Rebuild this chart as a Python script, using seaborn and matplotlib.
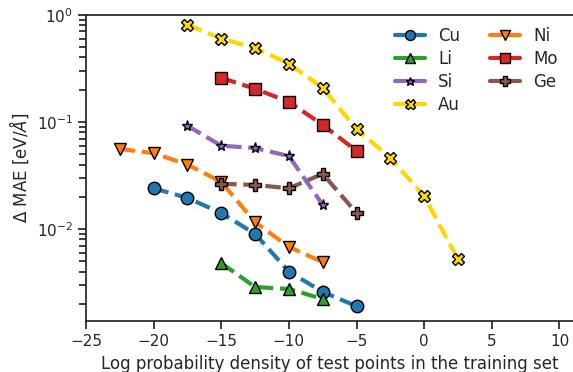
import matplotlib
matplotlib.use("Agg")
import matplotlib.pyplot as plt
import matplotlib.ticker as mticker
from matplotlib.lines import Line2D
import seaborn as sns
import pandas as pd

sns.set_theme(style="ticks", context="notebook")

elements = ["Cu", "Li", "Si", "Au", "Ni", "Mo", "Ge"]
markers = ["o", "^", "*", "X", "v", "s", "P"]
colors = ["#1f77b4", "#2ca02c", "#9467bd", "#FFD700", "#ff7f0e", "#d62728", "#8c564b"]

cu_x = [-20, -17.5, -15, -12.5, -10, -7.5, -5]
cu_y = [0.024, 0.0195, 0.0141, 0.0090, 0.0040, 0.00258, 0.0019]
li_x = [-15, -12.5, -10, -7.5]
li_y = [0.0048, 0.00287, 0.00275, 0.00222]
si_x = [-17.5, -15, -12.5, -10, -7.5]
si_y = [0.092, 0.060, 0.057, 0.048, 0.0168]
au_x = [-17.5, -15, -12.5, -10, -7.5, -5, -2.5, 0, 2.5]
au_y = [0.81, 0.60, 0.49, 0.35, 0.208, 0.086, 0.046, 0.0203, 0.0052]
ni_x = [-22.5, -20, -17.5, -15, -12.5, -10, -7.5]
ni_y = [0.056, 0.051, 0.040, 0.0275, 0.0116, 0.0068, 0.0049]
mo_x = [-15, -12.5, -10, -7.5, -5]
mo_y = [0.258, 0.204, 0.154, 0.094, 0.0536]
ge_x = [-15, -12.5, -10, -7.5, -5]
ge_y = [0.0264, 0.0258, 0.024, 0.0327, 0.0141]

series = {
    "Cu": (cu_x, cu_y), "Li": (li_x, li_y), "Si": (si_x, si_y), "Au": (au_x, au_y),
    "Ni": (ni_x, ni_y), "Mo": (mo_x, mo_y), "Ge": (ge_x, ge_y),
}

rows = []
for el in elements:
    xs, ys = series[el]
    for x, y in zip(xs, ys):
        rows.append({"element": el, "logp": x, "mae": y})
df = pd.DataFrame(rows)

fig = plt.figure(figsize=(5.73, 3.72), dpi=100)
ax = fig.add_axes([0.150, 0.137, 0.850, 0.823])

marker_sizes = {}
for el, m, c in zip(elements, markers, colors):
    sub = df[df["element"] == el]
    ms = 8 if m == "*" else 9
    marker_sizes[el] = ms
    sns.lineplot(data=sub, x="logp", y="mae", ax=ax, color=c, marker=m,
                 markersize=ms, markeredgecolor="black", markeredgewidth=1.0,
                 linewidth=3, legend=False)

for line in ax.lines:
    line.set_linestyle((0, (3.7, 1.6)))

ax.set_yscale("log")
ax.set_xlim(-25, 11)
ax.set_ylim(0.00138, 1.0)
ax.set_xticks([-25, -20, -15, -10, -5, 0, 5, 10])
minor = [k * 10.0 ** d for d in (-3, -2, -1) for k in range(2, 10)]
ax.yaxis.set_minor_locator(mticker.FixedLocator(minor))
ax.yaxis.set_minor_formatter(mticker.NullFormatter())
ax.set_xlabel("Log probability density of test points in the training set")
ax.set_ylabel(r"$\Delta$ MAE [eV/$\AA$]")
ax.spines["right"].set_visible(False)

# legend keys: solid line with the series marker
handles = [
    Line2D([], [], color=c, marker=m, markersize=marker_sizes[el] * 0.8,
           markeredgecolor="black", markeredgewidth=1.0, linewidth=3, linestyle="-")
    for el, m, c in zip(elements, markers, colors)
]
ax.legend(handles, elements, ncol=2, frameon=False, loc="upper right",
          bbox_to_anchor=(1.0, 1.01), handlelength=1.8, columnspacing=1.8,
          labelspacing=0.3, fontsize=12)

ax.tick_params(axis="y", which="minor", left=True, length=5, width=1.25,
               color="#262626")

fig.savefig("out.png", dpi=100)
